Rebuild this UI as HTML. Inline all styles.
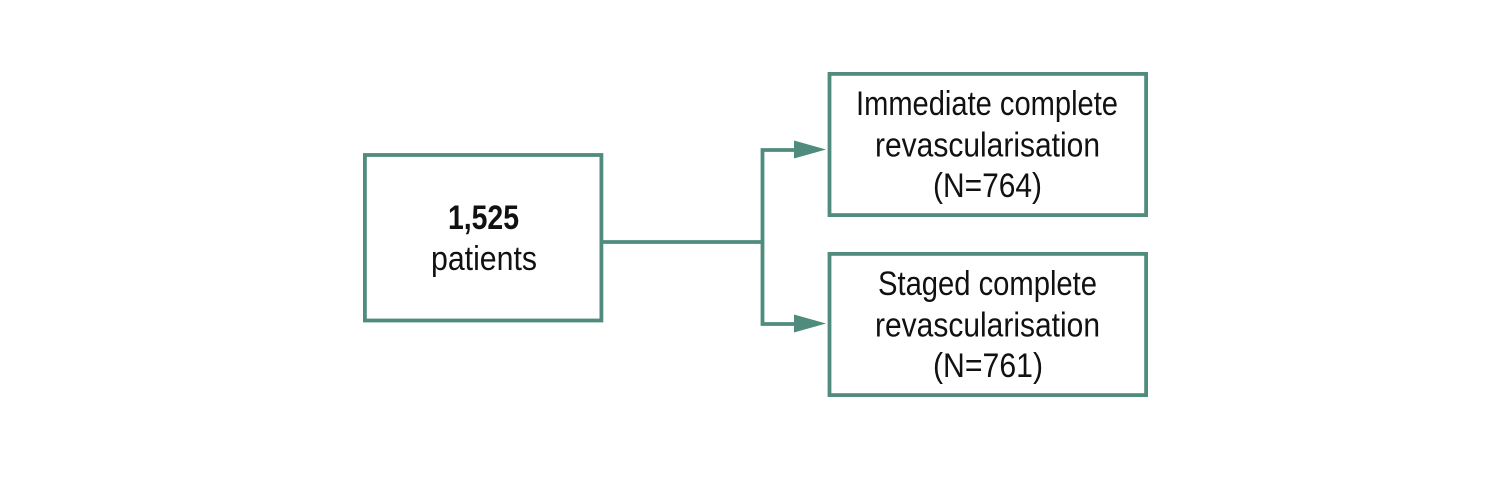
<!DOCTYPE html>
<html>
<head>
<meta charset="utf-8">
<style>
  html, body { margin: 0; padding: 0; background: #ffffff; }
  body { width: 1512px; height: 481px; overflow: hidden; }
  svg { display: block; }
  text { font-family: "Liberation Sans Narrow", "Liberation Sans", sans-serif; fill: #111; font-size: 34px; }
</style>
</head>
<body>
<svg width="1512" height="481" viewBox="0 0 1512 481" xmlns="http://www.w3.org/2000/svg">
  <g fill="none" stroke="#4f8c7e" stroke-width="3.8">
    <rect x="364.9" y="155" width="236.5" height="165.5"/>
    <rect x="829.5" y="73.9" width="316.6" height="141.2"/>
    <rect x="829.5" y="253.9" width="316.6" height="141.2"/>
    <polyline points="601.5,242 762.5,242"/>
    <polyline points="796,150 762.5,150 762.5,324 796,324"/>
  </g>
  <g fill="#4f8c7e">
    <polygon points="794,140.5 826,149.5 794,158.5"/>
    <polygon points="794,314.5 826,323.5 794,332.5"/>
  </g>

  <text x="448" y="229" textLength="71" lengthAdjust="spacingAndGlyphs" font-weight="bold">1,525</text>
  <text x="431" y="270" textLength="106" lengthAdjust="spacingAndGlyphs">patients</text>

  <text x="856" y="115" textLength="262" lengthAdjust="spacingAndGlyphs">Immediate complete</text>
  <text x="875" y="156.5" textLength="225" lengthAdjust="spacingAndGlyphs">revascularisation</text>
  <text x="933" y="197" textLength="109" lengthAdjust="spacingAndGlyphs">(N=764)</text>

  <text x="878" y="295" textLength="219" lengthAdjust="spacingAndGlyphs">Staged complete</text>
  <text x="875" y="336.5" textLength="225" lengthAdjust="spacingAndGlyphs">revascularisation</text>
  <text x="933" y="377" textLength="110" lengthAdjust="spacingAndGlyphs">(N=761)</text>
</svg>
</body>
</html>
